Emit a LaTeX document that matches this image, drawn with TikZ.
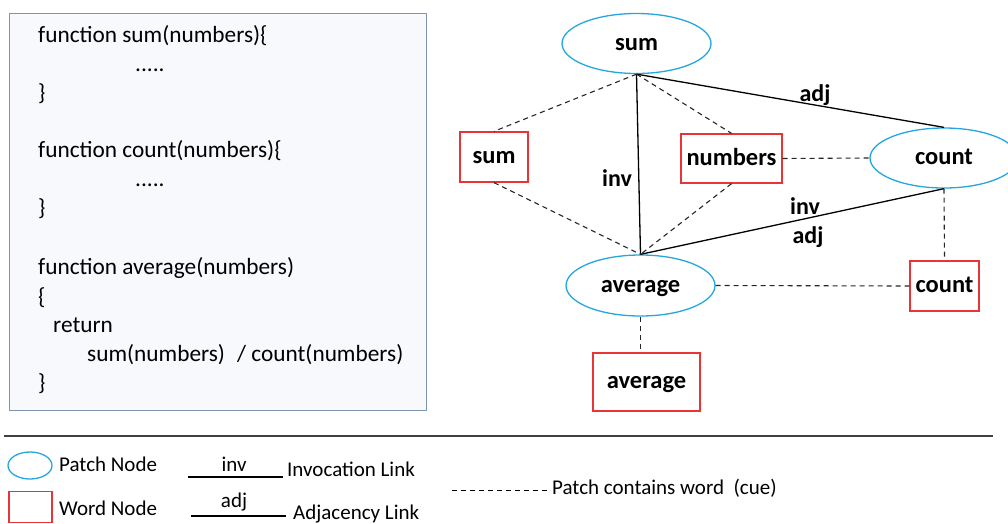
\documentclass[tikz,border=0pt]{standalone}
\usepackage{fontspec}
\setmainfont{Carlito}
\usetikzlibrary{shapes.geometric}
\definecolor{patchblue}{RGB}{38,166,222}
\definecolor{wordred}{RGB}{232,52,52}
\definecolor{codeborder}{RGB}{128,148,176}
\definecolor{codefill}{RGB}{247,249,252}
\definecolor{rulegray}{RGB}{64,64,64}
\tikzset{
  codetxt/.style={inner sep=0pt, anchor=base west, font=\fontsize{23.3}{28}\selectfont},
  legtxt/.style={inner sep=0pt, anchor=base west, font=\fontsize{21}{25}\selectfont},
  patch/.style={ellipse, draw=patchblue, line width=1.3pt, inner sep=0pt, text height=18pt, text depth=5pt, font=\fontsize{24.5}{28}\selectfont\bfseries},
  word/.style={rectangle, draw=wordred, line width=1.3pt, inner sep=0pt, text height=18pt, text depth=5pt, font=\fontsize{24.5}{28}\selectfont\bfseries},
  cue/.style={dashed, dash pattern=on 5pt off 4pt, line width=1.1pt, black!85},
  link/.style={line width=1.3pt, black},
  lbl/.style={inner sep=0pt, font=\fontsize{24}{28}\selectfont\bfseries},
}
\begin{document}
\begin{tikzpicture}[x=1pt,y=-1pt]
\useasboundingbox (0,0) rectangle (1008,523);
\clip (0,0) rectangle (1008,523);
% code box
\node[draw=codeborder, fill=codefill, line width=1.3pt, minimum width=417pt, minimum height=397pt, inner sep=0pt, anchor=north west] (code) at (9,13) {};
\node[codetxt] (l1) at (38,42) {function sum(numbers)\{};
\node[codetxt] (l2) at (135,71) {.....};
\node[codetxt] (l3) at (38,100) {\}};
\node[codetxt] (l4) at (38,157) {function count(numbers)\{};
\node[codetxt] (l5) at (135,186) {.....};
\node[codetxt] (l6) at (38,215) {\}};
\node[codetxt] (l7) at (38,274) {function average(numbers)};
\node[codetxt] (l8) at (38,304) {\{};
\node[codetxt] (l9) at (53,332) {return};
\node[codetxt] (l10a) at (87,361) {sum(numbers)};
\node[codetxt] (l10b) at (237,361) {/ count(numbers)};
\node[codetxt] (l11) at (38,390) {\}};
% graph nodes
\node[patch, minimum width=149pt, minimum height=60pt] (psum) at (636.5,43.5) {sum};
\node[patch, minimum width=148pt, minimum height=60pt] (pcount) at (944,158) {count};
\node[patch, minimum width=149pt, minimum height=61pt] (pavg) at (640.5,285.5) {average};
\node[word, minimum width=68pt, minimum height=50pt] (wsum) at (494,157) {sum};
\node[word, minimum width=101pt, minimum height=49pt] (wnum) at (731.5,158.5) {numbers};
\node[word, minimum width=69pt, minimum height=50pt] (wcount) at (944.5,286) {count};
\node[word, minimum width=107pt, minimum height=58pt] (wavg) at (646.5,382) {average};
% links
\draw[link] (psum.south) -- (pavg.north);
\draw[link] (psum.south) -- (pcount.north);
\draw[link] (pavg.north) -- (pcount.south);
\node[lbl] (linv1) at (617,178) {inv};
\node[lbl] (ladj1) at (815,95) {adj};
\node[lbl] (linv2) at (805,206) {inv};
\node[lbl] (ladj2) at (808,237) {adj};
% cues
\draw[cue] (psum.south) -- (wsum.north);
\draw[cue] (wsum.south) -- (pavg.north);
\draw[cue] (psum.south) -- (wnum.north);
\draw[cue] (wnum.south) -- (pavg.north);
\draw[cue] (wnum.east) -- (pcount.west);
\draw[cue] (pcount.south) -- (wcount.north);
\draw[cue] (pavg.east) -- (wcount.west);
\draw[cue] (pavg.south) -- (pavg.south |- wavg.north);
% legend
\coordinate (r1) at (4,436);
\coordinate (r2) at (993,436);
\draw[rulegray, line width=2pt] (r1) -- (r2);
\node[ellipse, draw=patchblue, line width=1.3pt, minimum width=44pt, minimum height=27pt, inner sep=0pt] (legp) at (30,465.5) {};
\node[rectangle, draw=wordred, line width=1.3pt, minimum width=43pt, minimum height=31pt, inner sep=0pt] (legw) at (30.5,507) {};
\node[legtxt] (tpatch) at (59,471) {Patch Node};
\node[legtxt] (tword) at (59,515) {Word Node};
\coordinate (ia) at (188,477);
\coordinate (ib) at (283,477);
\draw[line width=1.1pt] (ia) -- (ib);
\node[legtxt, anchor=base] (tinv) at (234,471) {inv};
\node[legtxt] (tinvl) at (287,476) {Invocation Link};
\coordinate (aa) at (191,516);
\coordinate (ab) at (286,516);
\draw[line width=1.1pt] (aa) -- (ab);
\node[legtxt, anchor=base] (tadj) at (234,507) {adj};
\node[legtxt] (tadjl) at (293,519) {Adjacency Link};
\coordinate (da) at (452,490);
\coordinate (db) at (547,490);
\draw[dashed, dash pattern=on 5pt off 4pt, line width=1pt] (da) -- (db);
\node[legtxt] (tcue) at (552,494) {Patch contains word\ \ (cue)};
\end{tikzpicture}
\end{document}
